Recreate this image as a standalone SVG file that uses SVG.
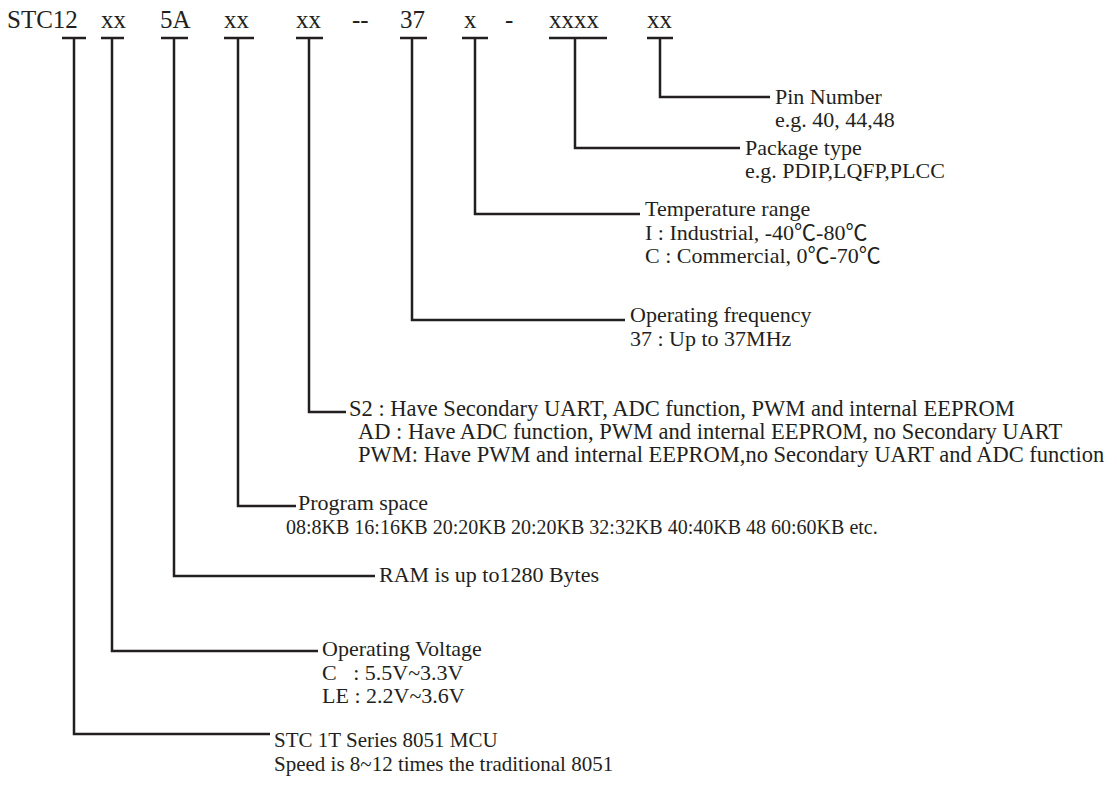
<svg xmlns="http://www.w3.org/2000/svg" width="1117" height="794" viewBox="0 0 1117 794">
<style>
.t{font-family:"Liberation Serif","Noto Sans CJK SC",serif;fill:#231f20;font-size:22px;white-space:pre}
.f{font-size:22.5px}
.s{font-size:21px}
.p{font-size:20px}
.h{font-family:"Liberation Serif","Noto Sans CJK SC",serif;fill:#231f20;font-size:25px;white-space:pre}
.c{fill:none;stroke:#231f20;stroke-width:2.5;stroke-linecap:butt;stroke-linejoin:miter}
</style>
<rect width="1117" height="794" fill="#fff"/>
<g id="part-number">
<text class="h" x="7" y="28">STC12</text>
<text class="h" x="101" y="28">xx</text>
<text class="h" x="160" y="28">5A</text>
<text class="h" x="224" y="28">xx</text>
<text class="h" x="296" y="28">xx</text>
<text class="h" x="352" y="28">--</text>
<text class="h" x="400" y="28">37</text>
<text class="h" x="464" y="28">x</text>
<text class="h" x="505" y="28">-</text>
<text class="h" x="549" y="28">xxxx</text>
<text class="h" x="647" y="28">xx</text>
</g>
<g id="connectors" class="c">
<path d="M62 38H86M74 38V734H270"/>
<path d="M101 38H124M112 38V651H318"/>
<path d="M161 38H188M174 38V576H375"/>
<path d="M224 38H254M238 38V506H296"/>
<path d="M296 38H323M309 38V412H346"/>
<path d="M400 38H427M412 38V320H625"/>
<path d="M462 38H488M475 38V214H640"/>
<path d="M549 38H607M575 38V148H740"/>
<path d="M647 38H673M660 38V97H770"/>
</g>
<g id="pin-number">
<text class="t" x="775" y="104">Pin Number</text>
<text class="t" x="775" y="127">e.g. 40, 44,48</text>
</g>
<g id="package-type">
<text class="t" x="745" y="155">Package type</text>
<text class="t" x="745" y="178">e.g. PDIP,LQFP,PLCC</text>
</g>
<g id="temperature-range">
<text class="t" x="645" y="216">Temperature range</text>
<text class="t" x="645" y="240">I : Industrial, -40℃-80℃</text>
<text class="t" x="645" y="263">C : Commercial, 0℃-70℃</text>
</g>
<g id="operating-frequency">
<text class="t" x="630" y="322">Operating frequency</text>
<text class="t" x="630" y="346">37 : Up to 37MHz</text>
</g>
<g id="function">
<text class="t f" x="349" y="416">S2 : Have Secondary UART, ADC function, PWM and internal EEPROM</text>
<text class="t f" x="358" y="439">AD : Have ADC function, PWM and internal EEPROM, no Secondary UART</text>
<text class="t f" x="358" y="462">PWM: Have PWM and internal EEPROM,no Secondary UART and ADC function</text>
</g>
<g id="program-space">
<text class="t" x="298" y="510">Program space</text>
<text class="t p" x="286" y="534">08:8KB 16:16KB 20:20KB 20:20KB 32:32KB 40:40KB 48 60:60KB etc.</text>
</g>
<g id="ram">
<text class="t" x="379" y="582">RAM is up to1280 Bytes</text>
</g>
<g id="operating-voltage">
<text class="t" x="322" y="656">Operating Voltage</text>
<text class="t" x="322" y="680">C   : 5.5V~3.3V</text>
<text class="t" x="322" y="703">LE : 2.2V~3.6V</text>
</g>
<g id="series">
<text class="t s" x="274" y="747">STC 1T Series 8051 MCU</text>
<text class="t s" x="274" y="771">Speed is 8~12 times the traditional 8051</text>
</g>
</svg>
